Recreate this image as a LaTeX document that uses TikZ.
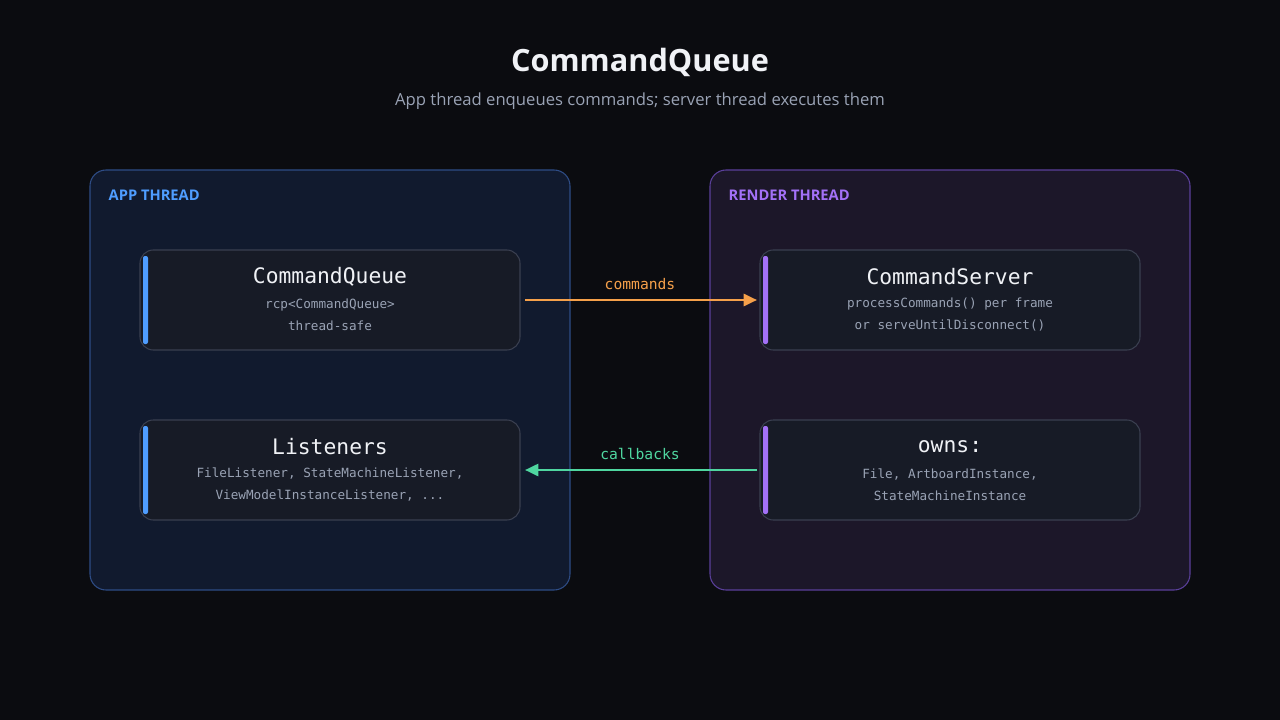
\documentclass[tikz,border=0pt]{standalone}
\usepackage{fontspec}
\setmainfont{Open Sans}
\newfontfamily\mono{DejaVu Sans Mono}
\usetikzlibrary{arrows.meta}
\definecolor{bg}{HTML}{0B0C10}
\definecolor{lpf}{HTML}{111A2E}
\definecolor{lpb}{HTML}{2E4C85}
\definecolor{rpf}{HTML}{1C1729}
\definecolor{rpb}{HTML}{5A3F9A}
\definecolor{boxf}{HTML}{171B26}
\definecolor{boxb}{HTML}{3A3F50}
\definecolor{blu}{HTML}{4F9DFF}
\definecolor{pur}{HTML}{A371F7}
\definecolor{sub}{HTML}{9AA3B5}
\definecolor{org}{HTML}{F5A04A}
\definecolor{grn}{HTML}{4FD6A0}
\definecolor{ttl}{HTML}{F0F2F6}
\begin{document}
\begin{tikzpicture}[x=0.75pt,y=-0.75pt,
 panel/.style={rounded corners=12pt,line width=0.8pt},
 box/.style={draw=boxb,fill=boxf,rounded corners=10pt,line width=0.8pt},
 btitle/.style={text=ttl,font=\mono\fontsize{16}{18}\selectfont},
 btext/.style={text=sub,font=\mono\fontsize{9.5}{16.5}\selectfont,align=center},
 plabel/.style={font=\bfseries\fontsize{11}{13}\selectfont,anchor=west},
 conn/.style={line width=2pt,-{Triangle[length=10pt,width=9pt]}},
 clabel/.style={font=\mono\fontsize{11}{13}\selectfont}]
\fill[bg] (0,0) rectangle (1280,720);
\node[text=ttl,font=\bfseries\fontsize{23}{26}\selectfont] (title) at (640,62) {CommandQueue};
\node[text=sub,font=\fontsize{12.5}{15}\selectfont] (subt) at (640,101) {App thread enqueues commands; server thread executes them};
\draw[panel,fill=lpf,draw=lpb] (90,170) rectangle (570,590);
\draw[panel,fill=rpf,draw=rpb] (710,170) rectangle (1190,590);
\node[plabel,text=blu] (lapp) at (104,195) {APP THREAD};
\node[plabel,text=pur] (lrend) at (724,195) {RENDER THREAD};
% boxes
\draw[box] (140,250) rectangle (520,350); \fill[blu,rounded corners=1.5pt] (143,256) rectangle (148,344);
\draw[box] (140,420) rectangle (520,520); \fill[blu,rounded corners=1.5pt] (143,426) rectangle (148,514);
\draw[box] (760,250) rectangle (1140,350); \fill[pur,rounded corners=1.5pt] (763,256) rectangle (768,344);
\draw[box] (760,420) rectangle (1140,520); \fill[pur,rounded corners=1.5pt] (763,426) rectangle (768,514);
\node[btitle] (t1) at (330,277) {CommandQueue};
\node[btext] (s1) at (330,315) {rcp<CommandQueue>\\thread-safe};
\node[btitle] (t2) at (330,447) {Listeners};
\node[btext] (s2) at (330,485) {FileListener, StateMachineListener,\\ViewModelInstanceListener, ...};
\node[btitle] (t3) at (950,277) {CommandServer};
\node[btext] (s3) at (950,315) {processCommands() per frame\\or serveUntilDisconnect()};
\node[btitle] (t4) at (950,447) {owns:};
\node[btext] (s4) at (950,485) {File, ArtboardInstance,\\StateMachineInstance};
\coordinate (a1) at (525,300); \coordinate (a2) at (757,300);
\coordinate (b1) at (757,470); \coordinate (b2) at (525,470);
\draw[conn,draw=org,fill=org] (a1) -- (a2);
\draw[conn,draw=grn,fill=grn] (b1) -- (b2);
\node[clabel,text=org] (lc) at (640,284) {commands};
\node[clabel,text=grn] (lb) at (640,454) {callbacks};
\end{tikzpicture}
\end{document}
